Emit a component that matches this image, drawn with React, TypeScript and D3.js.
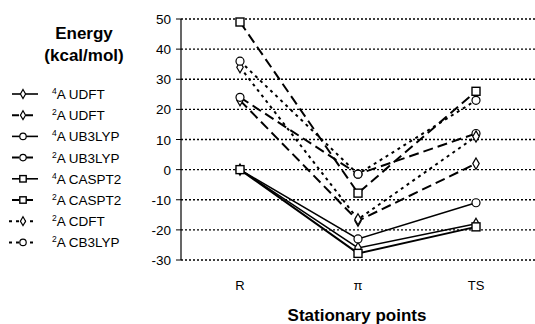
import { scaleLinear, scalePoint, line, symbol, symbolDiamond } from "d3";

const categories = ["R", "π", "TS"];
const yTicks = [50, 40, 30, 20, 10, 0, -10, -20, -30];

const seriesNames = ["UDFT", "UDFT", "UB3LYP", "UB3LYP", "CASPT2", "CASPT2", "CDFT", "CB3LYP"];
const seriesSpin = ["4", "2", "4", "2", "4", "2", "2", "2"];
const seriesMarker = ["diamond", "diamond", "circle", "circle", "square", "square", "diamond", "circle"];
const seriesDash = ["", "10,5", "", "10,5", "", "10,5", "3,4", "3,4"];
const seriesWidth = [1.5, 2, 1.5, 2, 2, 2, 2, 2];

const quartetUDFT = [0, -26, -18];
const doubletUDFT = [23, -17, 2];
const quartetUB3LYP = [0, -23, -11];
const doubletUB3LYP = [24, -1.5, 12];
const quartetCASPT2 = [0, -27.8, -19];
const doubletCASPT2 = [49, -7.8, 26];
const doubletCDFT = [34, -16.5, 11];
const doubletCB3LYP = [36, -1.5, 23];

const seriesValues = [
  quartetUDFT,
  doubletUDFT,
  quartetUB3LYP,
  doubletUB3LYP,
  quartetCASPT2,
  doubletCASPT2,
  doubletCDFT,
  doubletCB3LYP,
];

const FONT = "'Liberation Sans', Arial, Helvetica, sans-serif";

function Marker({ kind, x, y, s = 1 }: { kind: string; x: number; y: number; s?: number }) {
  if (kind === "circle") {
    return <circle cx={x} cy={y} r={4 * s} fill="#fff" stroke="#000" strokeWidth={1.2} />;
  }
  if (kind === "square") {
    const h = 4 * s;
    return <rect x={x - h} y={y - h} width={2 * h} height={2 * h} fill="#fff" stroke="#000" strokeWidth={1.4} />;
  }
  const d = symbol().type(symbolDiamond).size(36 * s * s)() || "";
  return <path d={d} transform={`translate(${x},${y})`} fill="#fff" stroke="#000" strokeWidth={1.2} />;
}

export default function App() {
  const width = 535;
  const height = 324;
  const left = 181;
  const right = 535;
  const top = 19;
  const bottom = 260;

  const x = scalePoint<string>().domain(categories).range([left, right]).padding(0.5);
  const y = scaleLinear().domain([-30, 50]).range([bottom, top]);

  const gen = line<number>()
    .x((_, i) => x(categories[i]) as number)
    .y((d) => y(d));

  return (
    <svg
      width={width}
      height={height}
      style={{ position: "absolute", left: 0, top: 0, background: "#fff" }}
      fontFamily={FONT}
    >
      {/* grid */}
      {yTicks.map((t) => (
        <g key={t}>
          <line
            x1={left}
            x2={right}
            y1={y(t)}
            y2={y(t)}
            stroke="#000"
            strokeWidth={1.3}
            strokeDasharray="2,2"
          />
          <line x1={left - 5} x2={left} y1={y(t)} y2={y(t)} stroke="#000" strokeWidth={1} />
          <text x={left - 10} y={y(t) + 5} textAnchor="end" fontSize={13.5}>
            {t}
          </text>
        </g>
      ))}
      <line x1={left} x2={left} y1={top} y2={bottom} stroke="#000" strokeWidth={1.2} />

      {/* category labels */}
      {categories.map((c) => (
        <text key={c} x={x(c)} y={290} textAnchor="middle" fontSize={13}>
          {c}
        </text>
      ))}
      <text x={357} y={321} textAnchor="middle" fontSize={17} fontWeight="bold">
        Stationary points
      </text>

      {/* series */}
      {seriesValues.map((vals, i) => (
        <path
          key={i}
          d={gen(vals) || ""}
          fill="none"
          stroke="#000"
          strokeWidth={seriesWidth[i]}
          strokeDasharray={seriesDash[i]}
        />
      ))}
      {seriesValues.map((vals, i) => (
        <g key={i}>
          {vals.map((v, j) => (
            <Marker key={j} kind={seriesMarker[i]} x={x(categories[j]) as number} y={y(v)} />
          ))}
        </g>
      ))}

      {/* legend */}
      <text x={84} y={39} textAnchor="middle" fontSize={17} fontWeight="bold">
        Energy
      </text>
      <text x={84} y={61} textAnchor="middle" fontSize={17} fontWeight="bold">
        (kcal/mol)
      </text>
      {seriesNames.map((name, i) => {
        const ly = 94 + i * 21.2;
        const dash = seriesDash[i];
        const dotted = dash === "3,4";
        const x1 = dotted ? 9 : dash ? 12 : 12;
        const x2 = dotted ? 37 : dash ? 33 : 38;
        return (
          <g key={i}>
            <line
              x1={x1}
              x2={x2}
              y1={ly}
              y2={ly}
              stroke="#000"
              strokeWidth={dash ? 2 : 1.6}
              strokeDasharray={dotted ? "3,4" : dash ? "7,7" : ""}
            />
            <Marker kind={seriesMarker[i]} x={23} y={ly} s={0.8} />
            <text x={52} y={ly + 5} fontSize={13.5}>
              <tspan fontSize={8.5} dy={-5}>
                {seriesSpin[i]}
              </tspan>
              <tspan dy={5}>A {name}</tspan>
            </text>
          </g>
        );
      })}
    </svg>
  );
}
